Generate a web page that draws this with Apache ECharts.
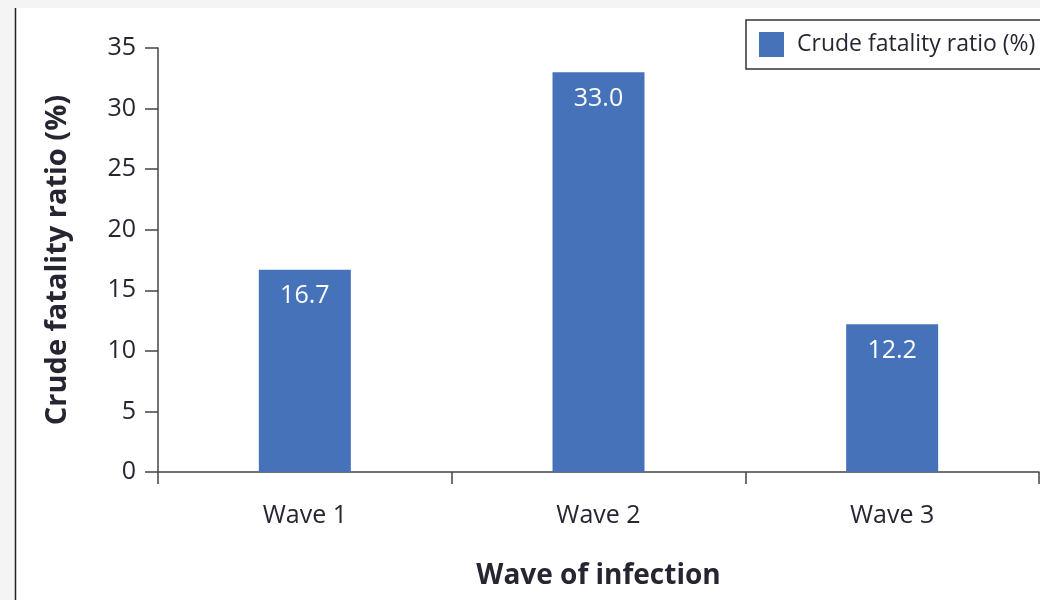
<!DOCTYPE html>
<html>
<head>
<meta charset="utf-8">
<script src="https://cdn.jsdelivr.net/npm/echarts@6/dist/echarts.min.js"></script>
<style>
  html, body { margin: 0; padding: 0; background: #fff; }
  #chart { width: 1040px; height: 600px; }
</style>
</head>
<body>
<div id="chart"></div>
<script>
// Crude fatality ratio by wave
const categories = ['Wave 1', 'Wave 2', 'Wave 3'];
const fatalityRatio = [16.7, 33.0, 12.2];
const seriesName = 'Crude fatality ratio (%)';
const xTitle = 'Wave of infection';
const yTitle = 'Crude fatality ratio (%)';

const FONT = '"Open Sans", "Noto Sans", sans-serif';
const TEXT = '#262633';
const AXIS = '#444444';

const chart = echarts.init(document.getElementById('chart'), null, { renderer: 'canvas' });

chart.setOption({
  backgroundColor: '#ffffff',
  animation: false,
  textStyle: { fontFamily: FONT, color: TEXT },
  graphic: [
    { type: 'rect', shape: { x: 0, y: 0, width: 1040, height: 8 }, style: { fill: '#f4f4f4' }, silent: true },
    { type: 'rect', shape: { x: 0, y: 0, width: 15, height: 600 }, style: { fill: '#f4f4f4' }, silent: true },
    { type: 'line', shape: { x1: 15.5, y1: 8, x2: 15.5, y2: 600 }, style: { stroke: '#222', lineWidth: 1.5 }, silent: true }
  ],
  legend: {
    left: 746,
    top: 20,
    orient: 'horizontal',
    itemWidth: 25,
    itemHeight: 25,
    itemGap: 10,
    padding: [12, 100, 12, 13],
    borderColor: '#333',
    borderWidth: 1.5,
    icon: 'rect',
    textStyle: { fontFamily: FONT, fontSize: 23, color: TEXT, padding: [0, 0, 0, 8] },
    data: [seriesName]
  },
  grid: { left: 158, top: 48, right: 1, bottom: 128, containLabel: false },
  xAxis: {
    type: 'category',
    data: categories,
    boundaryGap: true,
    name: xTitle,
    nameLocation: 'middle',
    nameGap: 90,
    nameTextStyle: { fontFamily: FONT, fontSize: 28, fontWeight: 'bold', color: TEXT },
    axisLine: { lineStyle: { color: AXIS, width: 1.5 } },
    axisTick: { show: true, length: 12, lineStyle: { color: AXIS, width: 1.5 } },
    axisLabel: { margin: 31, fontFamily: FONT, fontSize: 25, color: TEXT }
  },
  yAxis: {
    type: 'value',
    min: 0,
    max: 35,
    interval: 5,
    name: yTitle,
    nameLocation: 'middle',
    nameGap: 86,
    nameRotate: 90,
    nameTextStyle: { fontFamily: FONT, fontSize: 29, fontWeight: 'bold', color: TEXT },
    axisLine: { show: true, lineStyle: { color: AXIS, width: 1.5 } },
    axisTick: { show: true, length: 13, lineStyle: { color: AXIS, width: 1.5 } },
    axisLabel: { margin: 22, fontFamily: FONT, fontSize: 25, color: TEXT },
    splitLine: { show: false }
  },
  series: [{
    name: seriesName,
    type: 'bar',
    data: fatalityRatio,
    barWidth: 92,
    itemStyle: { color: '#4672b9' },
    label: {
      show: true,
      position: 'insideTop',
      distance: 14,
      fontFamily: FONT,
      fontSize: 25,
      color: '#ffffff',
      formatter: p => p.value.toFixed(1)
    }
  }]
});
</script>
</body>
</html>
